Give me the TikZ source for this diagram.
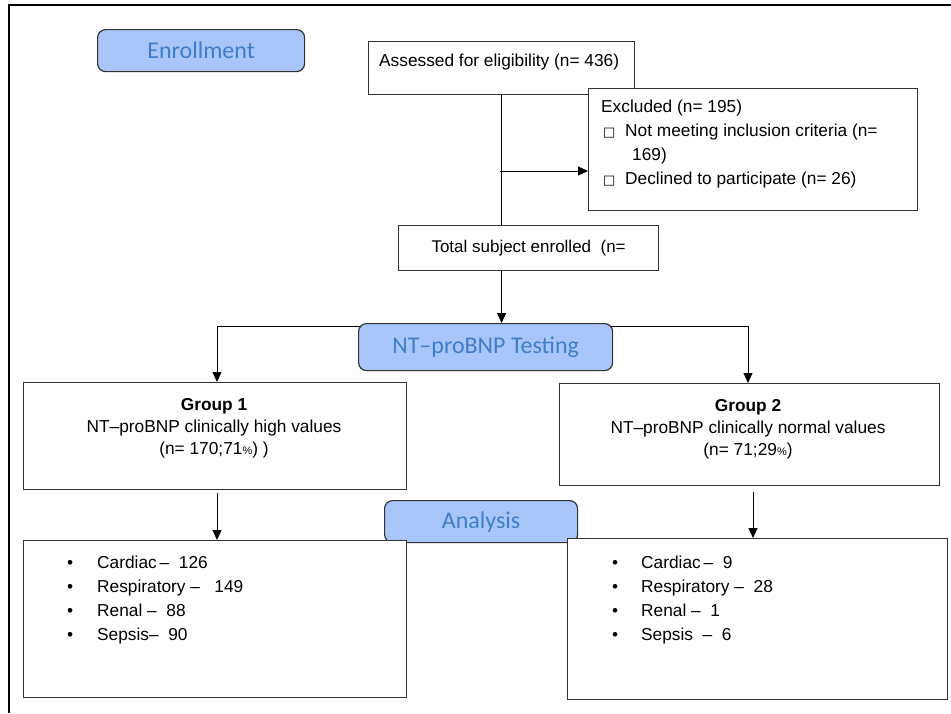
\documentclass[tikz,border=0pt]{standalone}
\usepackage{fontspec}
\setmainfont{Liberation Sans}
\newfontfamily\headfont{Carlito}
\newfontfamily\boxfont{DejaVu Sans}
\usetikzlibrary{arrows.meta}
\definecolor{headfill}{HTML}{A8C6FA}
\definecolor{headtext}{HTML}{3F7FC9}
\definecolor{lineclr}{HTML}{333333}
\newcommand{\chk}{{\boxfont\fontsize{13}{13}\selectfont □}}
\newcommand{\pct}{{\fontsize{11}{11}\selectfont\%}}
\tikzset{
  box/.style={draw=lineclr, line width=1.2pt, fill=white, anchor=north west, inner sep=0pt,
    font=\fontsize{17}{24}\selectfont},
  head/.style={draw=lineclr, line width=1.2pt, fill=headfill, rounded corners=8pt, anchor=north west,
    inner sep=0pt, text=headtext, font=\headfont\fontsize{24}{24}\selectfont},
  txt/.style={inner sep=0pt, font=\fontsize{17.3}{24}\selectfont},
  grp/.style={inner sep=0pt, align=center, font=\fontsize{17.3}{22}\selectfont},
  arr/.style={-{Triangle[length=10pt,width=9pt]}, line width=1pt},
  link/.style={line width=1pt}
}
\begin{document}
\begin{tikzpicture}[x=1pt,y=-1pt]
  \useasboundingbox (0,0) rectangle (951,713);
  % frame
  \draw[line width=1.8pt] (9,713) -- (9,5) -- (951,5);
  % enrollment
  \node[head, minimum width=207pt, minimum height=42pt] (enrol) at (97,29) {Enrollment};
  \node[box, minimum width=266pt, minimum height=53pt] (assess) at (368,41) {};
  \node[txt, anchor=west] (assesstxt) at (379,62.5) {Assessed for eligibility (n= 436)};
  \node[box, minimum width=329pt, minimum height=122pt] (excl) at (588,88) {};
  \node[txt, anchor=north west, align=left] (excltxt) at (601,100) {Excluded (n= 195)\\
    \hspace*{2pt}\makebox[22pt][l]{\chk}Not meeting inclusion criteria (n=\\
    \hspace*{31pt}169)\\
    \hspace*{2pt}\makebox[22pt][l]{\chk}Declined to participate (n= 26)};
  \node[box, minimum width=260pt, minimum height=45pt] (total) at (398,225) {Total subject enrolled\ \ (n=};
  \draw[link] (assess.south) -- (assess.south |- total.north);
  \coordinate (exclfrom) at (500,171);
  \draw[arr] (exclfrom) -- (exclfrom -| excl.west);
  % testing
  \coordinate (splitL) at (217,326);
  \coordinate (splitR) at (748,326);
  \draw[link] (splitL) -- (splitR);
  \node[head, minimum width=254pt, minimum height=47pt] (test) at (358,323) {NT–proBNP Testing};
  \draw[arr] (total.south -| assess.south) -- (assess.south |- test.north);
  \node[box, minimum width=383pt, minimum height=107pt] (g1) at (23,382) {};
  \node[box, minimum width=380pt, minimum height=102pt] (g2) at (559,383) {};
  \draw[arr] (splitL) -- (splitL |- g1.north);
  \draw[arr] (splitR) -- (splitR |- g2.north);
  \node[grp] (g1txt) at (214,428) {\textbf{Group 1}\\NT–proBNP clinically high values\\(n= 170;71\pct) )};
  \node[grp] (g2txt) at (748,429) {\textbf{Group 2}\\NT–proBNP clinically normal values\\(n= 71;29\pct)};
  % analysis
  \node[head, minimum width=193pt, minimum height=42pt] (anal) at (384,500) {Analysis};
  \node[box, minimum width=383pt, minimum height=157pt] (list1) at (23,540) {};
  \node[box, minimum width=380pt, minimum height=161pt] (list2) at (567,538) {};
  \coordinate (g1out) at (217,493);
  \coordinate (g2out) at (753,492);
  \draw[arr] (g1out) -- (g1out |- list1.north);
  \draw[arr] (g2out) -- (g2out |- list2.north);
  \node[txt, anchor=west, align=left] (list1txt) at (67,600) {%
    \makebox[30pt][l]{•}Cardiac\,–\ \ 126\\
    \makebox[30pt][l]{•}Respiratory –\ \ \ 149\\
    \makebox[30pt][l]{•}Renal –\ \ 88\\
    \makebox[30pt][l]{•}Sepsis–\ \ 90};
  \node[txt, anchor=west, align=left] (list2txt) at (612,600) {%
    \makebox[29pt][l]{•}Cardiac\,–\ \ 9\\
    \makebox[29pt][l]{•}Respiratory –\ \ 28\\
    \makebox[29pt][l]{•}Renal –\ \ 1\\
    \makebox[29pt][l]{•}Sepsis\ \ –\ \ 6};
\end{tikzpicture}
\end{document}
